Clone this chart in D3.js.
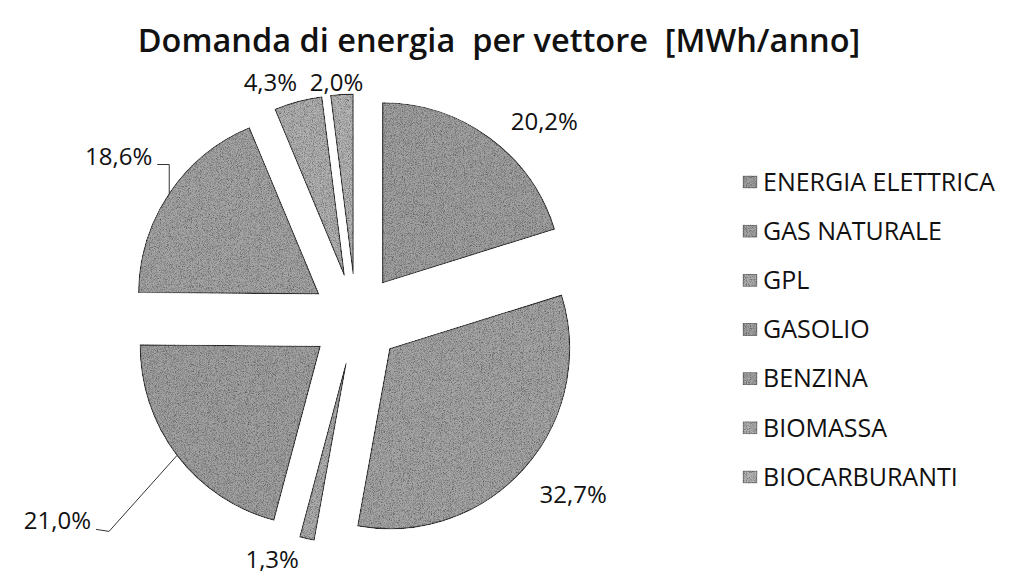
<!DOCTYPE html>
<html>
<head>
<meta charset="utf-8">
<script src="https://cdn.jsdelivr.net/npm/d3@7/dist/d3.min.js"></script>
<style>
body { margin: 0; background: #fff; }
text { font-family: "Open Sans", sans-serif; fill: #111; }
</style>
</head>
<body>
<div id="chart"></div>
<script>
// data
const categories = ['ENERGIA ELETTRICA', 'GAS NATURALE', 'GPL', 'GASOLIO', 'BENZINA', 'BIOMASSA', 'BIOCARBURANTI']
const shares = [20.2, 32.7, 1.3, 21.0, 18.6, 4.3, 2.0]
const shareLabels = ['20,2%', '32,7%', '1,3%', '21,0%', '18,6%', '4,3%', '2,0%']
const chartTitle = 'Domanda di energia\u00a0 per vettore\u00a0 [MWh/anno]'

// grey tones of the scanned slices
const greys = ['#a2a2a2', '#a6a6a6', '#aeaeae', '#a2a2a2', '#a6a6a6', '#b2b2b2', '#b6b6b6']

const width = 1013
const height = 579
const center = { x: 356, y: 319 }
const radius = 180
const explode = 45

// label nudges (text anchors) relative to the default spot just outside each slice
const labelNudge = [[42, 2], [32, 12], [-30, 0], null, null, [-22, 2], [-4, 10]]
// labels hooked with a leader line: elbow and text end, relative to the arc point
const leaders = {
    3: { elbow: [-68, 76], text: [-86, 74] },
    4: { elbow: [0, -29], text: [-17, -29] }
}

const svg = d3.select('#chart').append('svg')
    .attr('width', width)
    .attr('height', height)

const defs = svg.append('defs')
const grain = defs.append('filter').attr('id', 'grain')
grain.append('feTurbulence')
    .attr('type', 'fractalNoise')
    .attr('baseFrequency', 1.1)
    .attr('numOctaves', 2)
    .attr('seed', 7)
    .attr('result', 'noise')
grain.append('feColorMatrix')
    .attr('in', 'noise')
    .attr('type', 'saturate')
    .attr('values', 0)
    .attr('result', 'mono')
const transfer = grain.append('feComponentTransfer').attr('in', 'mono').attr('result', 'dots')
;['feFuncR', 'feFuncG', 'feFuncB'].forEach(f => {
    transfer.append(f).attr('type', 'discrete').attr('tableValues', '0.1 0.25 0.45 0.7 0.95 1 1 1')
})
transfer.append('feFuncA').attr('type', 'linear').attr('slope', 0).attr('intercept', 1)
grain.append('feBlend')
    .attr('in', 'SourceGraphic')
    .attr('in2', 'dots')
    .attr('mode', 'multiply')
    .attr('result', 'tex')
grain.append('feComposite')
    .attr('in', 'tex')
    .attr('in2', 'SourceGraphic')
    .attr('operator', 'in')

svg.append('text')
    .attr('x', 499)
    .attr('y', 52)
    .attr('text-anchor', 'middle')
    .style('font-size', '32.5px')
    .style('font-weight', 600)
    .text(chartTitle)

const pie = d3.pie().sort(null).value(d => d)
const slices = pie(shares)
const arc = d3.arc().innerRadius(0).outerRadius(radius)

const dir = s => {
    const mid = (s.startAngle + s.endAngle) / 2
    return [Math.sin(mid), -Math.cos(mid)]
}
const apex = s => {
    const [dx, dy] = dir(s)
    return [center.x + dx * explode, center.y + dy * explode]
}

const pieGroup = svg.append('g')

pieGroup.selectAll('path.slice')
    .data(slices)
    .enter().append('path')
    .attr('class', 'slice')
    .attr('transform', s => `translate(${apex(s)})`)
    .attr('d', arc)
    .attr('fill', (s, i) => greys[i])
    .attr('filter', 'url(#grain)')
    .attr('stroke', '#333')
    .attr('stroke-width', 1.2)

// value labels
slices.forEach((s, i) => {
    const [ax, ay] = apex(s)
    const [dx, dy] = dir(s)
    if (leaders[i]) {
        const px = ax + dx * radius
        const py = ay + dy * radius
        const l = leaders[i]
        pieGroup.append('polyline')
            .attr('points', [[px, py], [px + l.elbow[0], py + l.elbow[1]], [px + l.text[0] + 5, py + l.text[1]]].join(' '))
            .attr('fill', 'none')
            .attr('stroke', '#333')
            .attr('stroke-width', 1)
        pieGroup.append('text')
            .attr('x', px + l.text[0])
            .attr('y', py + l.text[1])
            .attr('text-anchor', 'end')
            .style('font-size', '24px')
            .text(shareLabels[i])
    } else {
        const n = labelNudge[i]
        pieGroup.append('text')
            .attr('x', ax + dx * (radius + 22) + n[0])
            .attr('y', ay + dy * (radius + 22) + n[1])
            .attr('text-anchor', 'middle')
            .attr('dy', '0.35em')
            .style('font-size', '24px')
            .text(shareLabels[i])
    }
})

// legend
const legendY = d3.scalePoint()
    .domain(categories)
    .range([182, 477])

const legend = svg.append('g')
const rows = legend.selectAll('g')
    .data(categories)
    .enter().append('g')
    .attr('transform', d => `translate(743, ${legendY(d)})`)

rows.append('rect')
    .attr('x', 0)
    .attr('y', -6)
    .attr('width', 14)
    .attr('height', 12)
    .attr('fill', (d, i) => greys[i])
    .attr('filter', 'url(#grain)')
    .attr('stroke', '#444')
    .attr('stroke-width', 0.8)

rows.append('text')
    .attr('x', 20)
    .attr('y', 0)
    .attr('dy', '0.35em')
    .style('font-size', '25px')
    .text(d => d)
</script>
</body>
</html>
